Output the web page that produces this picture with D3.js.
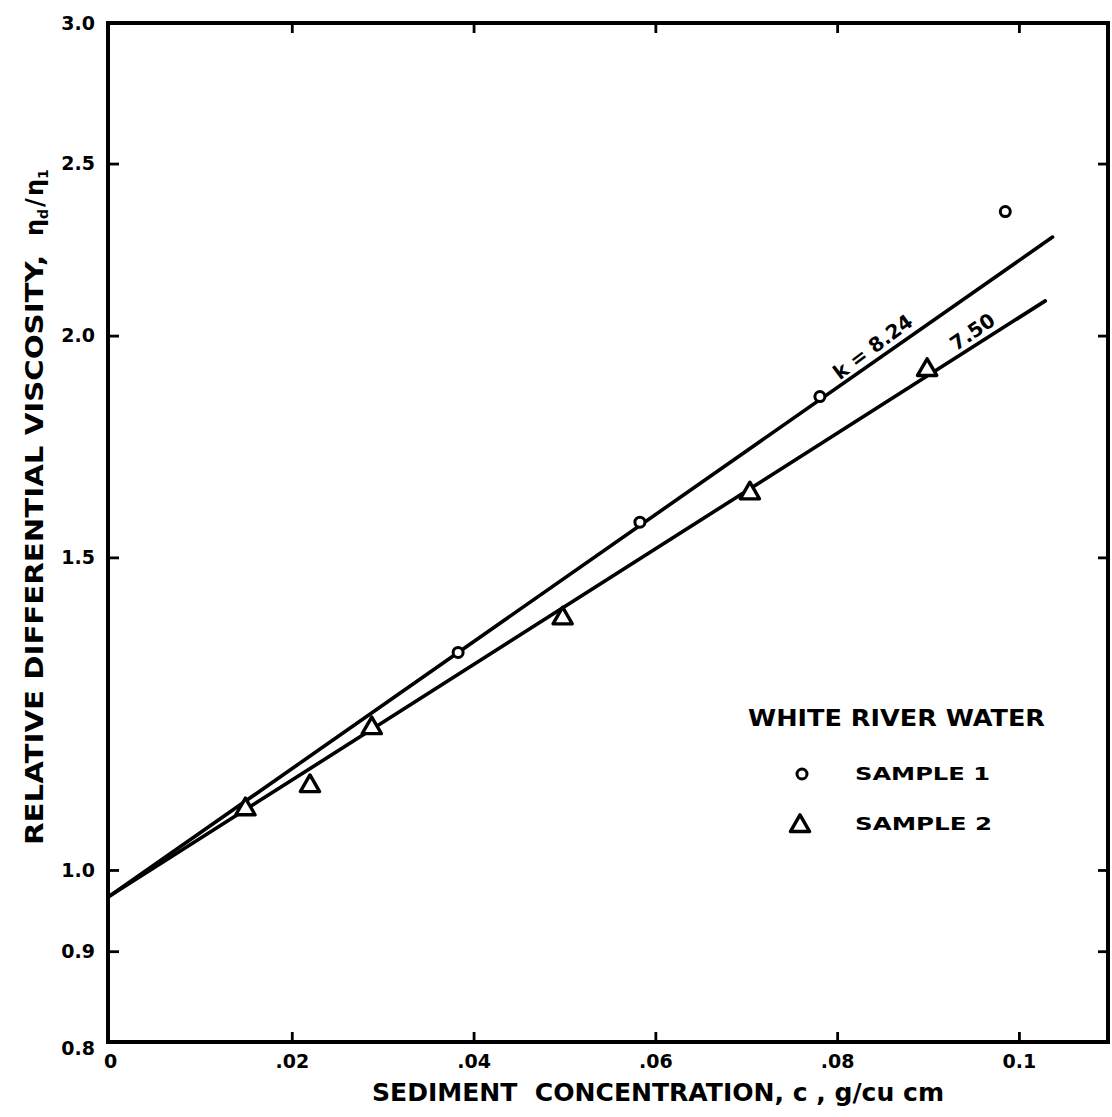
<!DOCTYPE html>
<html>
<head>
<meta charset="utf-8">
<script src="https://cdn.jsdelivr.net/npm/d3@7"></script>
<style>
  html, body { margin: 0; padding: 0; background: #fff; }
  svg { display: block; }
  text { font-family: "DejaVu Sans", sans-serif; font-weight: bold; fill: #000; }
</style>
</head>
<body>
<svg id="chart" width="1112" height="1117"></svg>
<script>
// Sample 1 (circles): sediment concentration c (g/cu cm) and relative viscosity
const conc1 = [0.0383, 0.0583, 0.0781, 0.0985];
const visc1 = [1.326, 1.570, 1.848, 2.349];

// Sample 2 (triangles)
const conc2 = [0.0149, 0.0220, 0.0288, 0.0498, 0.0704, 0.0899];
const visc2 = [1.082, 1.115, 1.202, 1.386, 1.630, 1.913];

// Fitted lines  eta_d/eta_1 = a * exp(k c)
const fitK = [8.24, 7.50];
const fitLabels = ["k = 8.24", "7.50"];
const fitLabelAt = [0.0848, 0.0957];
const fitIntercept = 0.967;
const fitEnd = [0.1037, 0.1029];

// Axis ticks
const xTicks = [0, 0.02, 0.04, 0.06, 0.08, 0.1];
const xTickLabels = ["0", ".02", ".04", ".06", ".08", "0.1"];
const yTicks = [0.8, 0.9, 1.0, 1.5, 2.0, 2.5, 3.0];
const yTickLabels = ["0.8", "0.9", "1.0", "1.5", "2.0", "2.5", "3.0"];

const svg = d3.select("#chart");

const plotLeft = 108, plotRight = 1108, plotTop = 23, plotBottom = 1042;
const x = d3.scaleLinear().domain([0, 0.1098]).range([plotLeft + 2, plotRight]);
const y = d3.scaleLog().domain([0.8, 3.0]).range([plotBottom, plotTop]);

// Frame
svg.append("rect")
  .attr("x", plotLeft).attr("y", plotTop)
  .attr("width", plotRight - plotLeft).attr("height", plotBottom - plotTop)
  .attr("fill", "none").attr("stroke", "#000").attr("stroke-width", 4);

function styleAxis(g) {
  g.select(".domain").remove();
  g.selectAll(".tick line").attr("stroke", "#000").attr("stroke-width", 2.8);
  g.selectAll(".tick text").attr("font-size", 19).attr("font-family", "DejaVu Sans").attr("font-weight", "bold").attr("fill", "#000");
}

// Bottom axis with labels, ticks pointing inward
svg.append("g")
  .attr("transform", `translate(0,${plotBottom})`)
  .call(d3.axisBottom(x).tickValues(xTicks).tickSize(-10).tickPadding(13)
    .tickFormat((d, i) => xTickLabels[i]))
  .call(styleAxis)
  .call(g => g.selectAll(".tick").filter(d => d === 0).select("line").remove());

// Top axis, ticks only
svg.append("g")
  .attr("transform", `translate(0,${plotTop})`)
  .call(d3.axisTop(x).tickValues(xTicks.slice(1)).tickSize(-10).tickFormat(""))
  .call(styleAxis);

// Left axis with labels
svg.append("g")
  .attr("transform", `translate(${plotLeft},0)`)
  .call(d3.axisLeft(y).tickValues(yTicks).tickSize(-11).tickPadding(13)
    .tickFormat((d, i) => yTickLabels[i]))
  .call(styleAxis)
  .call(g => g.selectAll(".tick").filter(d => d === 0.8 || d === 3.0).select("line").remove())
  .call(g => g.selectAll(".tick").filter(d => d === 0.8).select("text").attr("dy", "0.65em"));

// Right axis, ticks only
svg.append("g")
  .attr("transform", `translate(${plotRight},0)`)
  .call(d3.axisRight(y).tickValues(yTicks.slice(1, -1)).tickSize(-10).tickFormat(""))
  .call(styleAxis);

// Fitted lines (straight on the log axis)
const line = d3.line().x(d => x(d[0])).y(d => y(d[1]));
fitK.forEach((k, i) => {
  const pts = [0, fitEnd[i]].map(c => [c, fitIntercept * Math.exp(k * c)]);
  svg.append("path")
    .attr("d", line(pts))
    .attr("fill", "none").attr("stroke", "#000").attr("stroke-width", 3.6)
    .attr("stroke-linecap", "round");

  // label sitting on the line, rotated to its slope
  const c = fitLabelAt[i];
  const px = x(c), py = y(fitIntercept * Math.exp(k * c));
  const x0 = x(0), y0 = y(fitIntercept);
  const x1 = x(fitEnd[i]), y1 = y(fitIntercept * Math.exp(k * fitEnd[i]));
  const ang = Math.atan2(y1 - y0, x1 - x0) * 180 / Math.PI;
  svg.append("text")
    .attr("transform", `translate(${px},${py}) rotate(${ang - 2})`)
    .attr("y", -6)
    .attr("text-anchor", "middle")
    .attr("font-size", 20)
    .text(fitLabels[i]);
});

// Sample 1 markers: open circles
svg.append("g").selectAll("circle")
  .data(d3.zip(conc1, visc1))
  .join("circle")
  .attr("cx", d => x(d[0])).attr("cy", d => y(d[1]))
  .attr("r", 5)
  .attr("fill", "#fff").attr("stroke", "#000").attr("stroke-width", 3);

// Sample 2 markers: open triangles
const tri = d3.symbol().type(d3.symbolTriangle).size(160);
svg.append("g").selectAll("path")
  .data(d3.zip(conc2, visc2))
  .join("path")
  .attr("transform", d => `translate(${x(d[0])},${y(d[1])})`)
  .attr("d", tri)
  .attr("fill", "#fff").attr("stroke", "#000").attr("stroke-width", 3.4).attr("stroke-linejoin", "round");

// Legend
const legend = svg.append("g");
legend.append("text").attr("x", 748).attr("y", 726)
  .attr("font-size", 23).attr("textLength", 297).attr("lengthAdjust", "spacingAndGlyphs")
  .text("WHITE RIVER WATER");
legend.append("circle").attr("cx", 802).attr("cy", 774).attr("r", 5)
  .attr("fill", "#fff").attr("stroke", "#000").attr("stroke-width", 3);
legend.append("text").attr("x", 855).attr("y", 780)
  .attr("font-size", 18).attr("textLength", 135).attr("lengthAdjust", "spacingAndGlyphs")
  .text("SAMPLE 1");
legend.append("path").attr("transform", "translate(800,826)").attr("d", tri)
  .attr("fill", "#fff").attr("stroke", "#000").attr("stroke-width", 3.4).attr("stroke-linejoin", "round");
legend.append("text").attr("x", 855).attr("y", 830)
  .attr("font-size", 18).attr("textLength", 137).attr("lengthAdjust", "spacingAndGlyphs")
  .text("SAMPLE 2");

// X axis title
svg.append("text")
  .attr("x", 372).attr("y", 1101)
  .attr("font-size", 24).attr("textLength", 572).attr("lengthAdjust", "spacingAndGlyphs")
  .style("white-space", "pre")
  .text("SEDIMENT  CONCENTRATION, c , g/cu cm");

// Y axis title
svg.append("text")
  .attr("transform", "translate(43,845) rotate(-90)")
  .attr("font-size", 24).attr("textLength", 590).attr("lengthAdjust", "spacingAndGlyphs")
  .text("RELATIVE DIFFERENTIAL VISCOSITY,");
const eta = svg.append("text")
  .attr("transform", "translate(43,236) rotate(-90)")
  .attr("font-size", 24);
eta.append("tspan").text("η");
eta.append("tspan").attr("font-size", 14).attr("dy", 5).text("d");
eta.append("tspan").attr("dy", -5).attr("dx", 2).text("/");
eta.append("tspan").attr("dx", 2).text("η");
eta.append("tspan").attr("font-size", 14).attr("dy", 5).text("1");
</script>
</body>
</html>
